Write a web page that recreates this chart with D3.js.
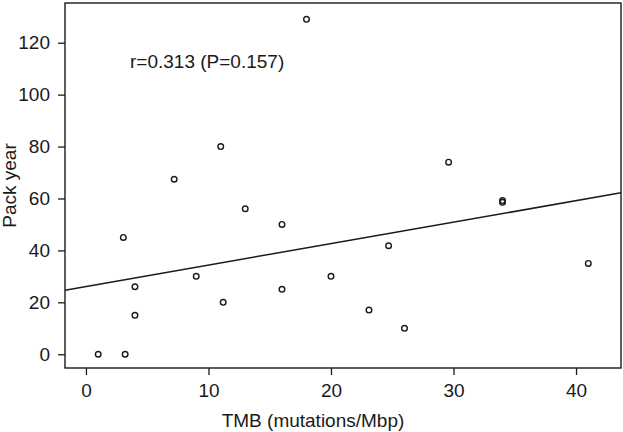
<!DOCTYPE html>
<html>
<head>
<meta charset="utf-8">
<script src="https://cdn.jsdelivr.net/npm/d3@7"></script>
<style>
  html, body { margin: 0; padding: 0; background: #fff; }
  svg { display: block; font-family: "Liberation Sans", Arial, Helvetica, sans-serif; }
</style>
</head>
<body>
<svg id="chart" width="623" height="432"></svg>
<script>
// ---- Data ----
const tmb      = [18.0, 11.0, 7.2, 13.0, 29.6, 34.0, 34.0, 1.0, 3.2, 3.05, 4.0, 4.0, 9.0, 11.2, 16.0, 16.0, 20.0, 24.7, 23.1, 26.0, 41.0];
const packYear = [129, 80, 67.4, 56, 74, 58.5, 59.2, 0, 0, 45, 26, 15, 30, 20, 50, 25, 30, 41.8, 17, 10, 35];
const xTicks = [0, 10, 20, 30, 40];
const yTicks = [0, 20, 40, 60, 80, 100, 120];
const fitIntercept = 26.1;
const fitSlope = 0.826;
const annotation = "r=0.313 (P=0.157)";
const xTitle = "TMB (mutations/Mbp)";
const yTitle = "Pack year";

// ---- Layout ----
const padL = 65, padR = 621, padT = 3, padB = 368;
const ink = "#1a1a1a";
const fs = 19;

const x = d3.scaleLinear().domain([-1.71, 43.67]).range([padL, padR]);
const y = d3.scaleLinear().domain([-5.3, 135.3]).range([padB, padT]);

const svg = d3.select("#chart");

// regression line
const xd = x.domain();
svg.append("line")
  .attr("x1", x(xd[0])).attr("y1", y(fitIntercept + fitSlope * xd[0]))
  .attr("x2", x(xd[1])).attr("y2", y(fitIntercept + fitSlope * xd[1]))
  .attr("stroke", ink).attr("stroke-width", 1.5);

// points
svg.append("g").selectAll("circle")
  .data(tmb.map((v, i) => [v, packYear[i]]))
  .join("circle")
  .attr("cx", d => x(d[0])).attr("cy", d => y(d[1]))
  .attr("r", 2.8)
  .attr("fill", "none").attr("stroke", ink).attr("stroke-width", 1.4);

// box
svg.append("rect")
  .attr("x", padL).attr("y", padT)
  .attr("width", padR - padL).attr("height", padB - padT)
  .attr("fill", "none").attr("stroke", ink).attr("stroke-width", 1.4);

// axes
const gx = svg.append("g").attr("transform", `translate(0,${padB})`)
  .call(d3.axisBottom(x).tickValues(xTicks).tickSize(7).tickPadding(9).tickFormat(d3.format("d")));
const gy = svg.append("g").attr("transform", `translate(${padL},0)`)
  .call(d3.axisLeft(y).tickValues(yTicks).tickSize(7).tickPadding(8).tickFormat(d3.format("d")));
[gx, gy].forEach(g => {
  g.select(".domain").remove();
  g.selectAll("line").attr("stroke", ink).attr("stroke-width", 1.3);
  g.selectAll("text").attr("fill", ink).style("font-size", fs + "px")
    .style("font-family", '"Liberation Sans", Arial, Helvetica, sans-serif');
});

// annotation
svg.append("text")
  .attr("x", 130).attr("y", 67.5)
  .attr("fill", ink).style("font-size", fs + "px")
  .text(annotation);

// axis titles
svg.append("text")
  .attr("x", 313).attr("y", 426.5)
  .attr("text-anchor", "middle")
  .attr("fill", ink).style("font-size", fs + "px")
  .text(xTitle);

svg.append("text")
  .attr("transform", `translate(16.3,${(padT + padB) / 2}) rotate(-90)`)
  .attr("text-anchor", "middle")
  .attr("fill", ink).style("font-size", fs + "px")
  .text(yTitle);
</script>
</body>
</html>
